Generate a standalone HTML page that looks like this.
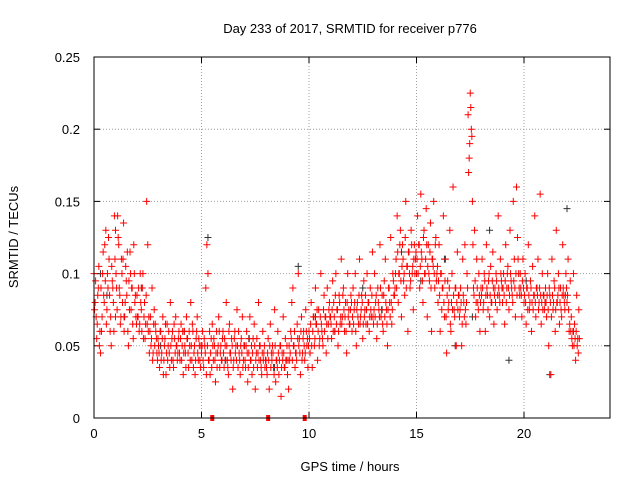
<!DOCTYPE html>
<html><head><meta charset="utf-8"><style>
body{margin:0;background:#fff}
svg{display:block;font-family:"Liberation Sans",sans-serif}
</style></head><body>
<svg id="chart" width="640" height="480" viewBox="0 0 640 480">
<text x="350" y="33" text-anchor="middle" font-size="13">Day 233 of 2017, SRMTID for receiver p776</text>
<text x="350" y="471" text-anchor="middle" font-size="13">GPS time / hours</text>
<text x="0" y="0" transform="translate(18,237) rotate(-90)" text-anchor="middle" font-size="13">SRMTID / TECUs</text>
<g id="grid"></g><g id="ticks"></g><g id="pts"></g>
<rect x="94" y="57" width="516" height="361" fill="none" stroke="#000"/>
</svg>
<script>
const xTicks=[0,5,10,15,20];
const yTicks=[0,0.05,0.1,0.15,0.2,0.25];
const yTickLabels=["0","0.05","0.1","0.15","0.2","0.25"];
const hourStarts=[0,1,2,3,4,5,6,7,8,9,10,11,12,13,14,15,16,17,18,19,20,21,22];
const redValues=[
[.10,.08,.07,.065,.09,.05,.045,.06,.1,.085,.12,.13,.075,.09,.11,.06,.05,.095,.08,.14,.07],
[.13,.09,.14,.12,.085,.07,.1,.11,.06,.08,.095,.115,.05,.075,.1,.09,.065,.12,.08,.07],
[.085,.07,.06,.1,.075,.09,.055,.08,.065,.15,.12,.07,.06,.05,.09,.045,.075,.065,.055,.04],
[.05,.035,.06,.045,.07,.04,.055,.03,.065,.05,.045,.08,.04,.06,.035,.055,.07,.05,.045,.06],
[.04,.065,.05,.03,.06,.045,.07,.055,.035,.05,.08,.04,.06,.045,.03,.055,.07,.04,.05,.035],
[.045,.06,.035,.05,.09,.12,.1,.04,.03,.055,.065,.04,.05,.025,.06,.045,.07,.035,.05,.04],
[.06,.035,.05,.08,.04,.03,.065,.045,.055,.02,.04,.06,.05,.075,.035,.045,.03,.055,.07,.04],
[.05,.035,.06,.025,.045,.07,.04,.03,.055,.065,.02,.045,.035,.08,.05,.04,.03,.06,.045,.035],
[.04,.03,.055,.02,.065,.045,.05,.035,.075,.025,.04,.06,.03,.05,.015,.045,.07,.035,.055,.04],
[.03,.02,.04,.06,.08,.09,.05,.035,.045,.065,.1,.055,.03,.07,.045,.06,.04,.075,.05,.035],
[.06,.045,.08,.035,.07,.05,.09,.065,.04,.075,.055,.1,.06,.05,.085,.07,.045,.09,.065,.08],
[.07,.055,.095,.08,.06,.1,.075,.05,.085,.065,.11,.07,.09,.06,.08,.045,.1,.075,.065,.085],
[.06,.09,.075,.1,.05,.08,.065,.11,.07,.085,.055,.095,.075,.065,.1,.08,.06,.09,.07,.115],
[.065,.1,.08,.055,.09,.075,.12,.07,.085,.06,.095,.11,.075,.05,.09,.08,.125,.065,.1,.085],
[.09,.11,.14,.08,.1,.13,.07,.12,.095,.085,.15,.105,.06,.115,.09,.13,.1,.075,.12,.11],
[.1,.14,.12,.09,.155,.11,.08,.13,.1,.145,.07,.12,.095,.135,.06,.11,.15,.09,.125,.1],
[.08,.12,.06,.1,.09,.14,.07,.11,.045,.095,.08,.13,.06,.1,.16,.075,.09,.05,.115,.085],
[.07,.09,.05,.11,.08,.12,.065,.1,.21,.18,.225,.2,.15,.09,.13,.07,.11,.08,.1,.06],
[.09,.11,.075,.1,.06,.12,.085,.095,.07,.105,.08,.115,.065,.09,.1,.075,.14,.085,.11,.095],
[.08,.1,.065,.12,.09,.105,.075,.13,.095,.085,.15,.11,.07,.16,.125,.1,.085,.09,.07,.11],
[.08,.1,.065,.09,.12,.075,.095,.06,.105,.085,.14,.07,.09,.11,.08,.155,.065,.1,.085,.075],
[.09,.07,.1,.05,.085,.03,.11,.075,.095,.06,.13,.08,.1,.065,.09,.07,.12,.085,.075,.1],
[.08,.11,.06,.095,.07,.05,.1,.065,.04,.085,.055,.075]
];
const redValues2=[
[.075,.095,.055,.085,.105,.06,.09,.07,.115,.08,.095,.065,.1,.125,.085,.07,.105,.09,.06,.11],
[.1,.075,.125,.09,.065,.11,.08,.135,.07,.105,.085,.06,.095,.115,.075,.09,.055,.1,.085,.065],
[.07,.09,.065,.08,.06,.1,.07,.055,.085,.065,.06,.045,.07,.055,.04,.065,.05,.06,.045,.055],
[.045,.06,.04,.055,.03,.05,.065,.045,.04,.06,.035,.05,.055,.04,.065,.045,.05,.04,.055,.045],
[.055,.04,.06,.045,.05,.035,.055,.045,.06,.04,.05,.065,.035,.05,.04,.06,.045,.055,.04,.05],
[.05,.04,.055,.045,.03,.05,.04,.06,.045,.035,.05,.055,.04,.045,.035,.05,.06,.045,.04,.055],
[.045,.055,.04,.05,.035,.06,.045,.04,.05,.035,.055,.045,.04,.05,.06,.04,.05,.045,.035,.05],
[.04,.05,.045,.035,.055,.04,.05,.045,.035,.05,.04,.055,.045,.04,.05,.035,.045,.04,.05,.04],
[.035,.045,.04,.05,.035,.04,.045,.03,.05,.04,.035,.045,.04,.05,.035,.04,.045,.035,.04,.05],
[.04,.05,.045,.055,.04,.05,.06,.045,.04,.055,.05,.045,.06,.04,.055,.05,.045,.06,.055,.05],
[.055,.065,.05,.06,.07,.055,.065,.075,.06,.05,.07,.065,.055,.075,.06,.07,.065,.055,.075,.07],
[.065,.075,.06,.07,.085,.065,.075,.06,.08,.07,.065,.085,.075,.07,.06,.08,.07,.065,.075,.08],
[.07,.065,.08,.06,.075,.07,.085,.065,.075,.08,.065,.07,.085,.075,.065,.08,.07,.075,.085,.07],
[.075,.07,.085,.065,.08,.07,.09,.075,.065,.085,.07,.08,.065,.075,.09,.07,.08,.075,.095,.085],
[.1,.09,.115,.1,.12,.095,.105,.11,.1,.125,.09,.105,.115,.1,.095,.12,.105,.11,.1,.115],
[.11,.1,.12,.105,.115,.095,.125,.1,.11,.12,.105,.1,.115,.09,.11,.105,.1,.12,.095,.105],
[.095,.085,.1,.075,.09,.08,.095,.07,.085,.075,.09,.065,.08,.075,.085,.07,.09,.08,.075,.085],
[.075,.08,.065,.085,.07,.075,.08,.09,.17,.19,.215,.195,.12,.085,.095,.08,.09,.075,.085,.08],
[.085,.09,.08,.095,.085,.09,.075,.1,.085,.08,.095,.09,.085,.08,.095,.085,.09,.08,.1,.09],
[.09,.085,.095,.08,.1,.09,.085,.1,.09,.08,.095,.09,.1,.085,.11,.09,.1,.085,.095,.09],
[.085,.08,.09,.075,.085,.08,.09,.08,.075,.085,.08,.09,.085,.075,.09,.085,.08,.075,.085,.08],
[.08,.085,.075,.09,.08,.07,.085,.08,.09,.075,.08,.085,.09,.08,.075,.085,.09,.08,.085,.09],
[.085,.075,.065,.06,.055,.06,.05,.055,.06,.05,.045,.055]
];
const epochStep=0.05;
const blackTimes=[0.3,0.6,1.4,2.2,3.1,4.2,5.3,6.1,7.2,8.4,9.5,10.3,11.2,12.5,13.4,14.3,15.2,16.3,16.8,17.6,18.4,19.3,20.1,21.2,22.0,22.3];
const blackValues=[.1,.085,.07,.09,.05,.06,.125,.04,.055,.035,.105,.07,.06,.09,.075,.115,.095,.11,.05,.07,.13,.04,.095,.03,.145,.06];
const gapTimes=[5.5,8.1,9.8];

const X0=94,X1=610,Y0=418,Y1=57,XMAX=24,YMAX=0.25;
const sx=t=>X0+t/XMAX*(X1-X0);
const sy=v=>Y0-v/YMAX*(Y0-Y1);
const NS="http://www.w3.org/2000/svg";
function mk(tag,attrs,parent){const e=document.createElementNS(NS,tag);for(const k in attrs)e.setAttribute(k,attrs[k]);parent.appendChild(e);return e;}
const grid=document.getElementById('grid'),ticks=document.getElementById('ticks'),pts=document.getElementById('pts');
xTicks.forEach(t=>{
  const x=sx(t);
  if(t>0){const g=mk('line',{x1:x,x2:x,y1:Y1,y2:Y0,stroke:'#a0a0a0','stroke-dasharray':'1,2'},grid);
  
  }
  mk('line',{x1:x,x2:x,y1:Y0,y2:Y0-6,stroke:'#000'},ticks);
  mk('line',{x1:x,x2:x,y1:Y1,y2:Y1+6,stroke:'#000'},ticks);
  const l=mk('text',{x:x,y:Y0+20,'text-anchor':'middle','font-size':13},ticks);
  l.textContent=String(t);
  
  
});
yTicks.forEach((v,i)=>{
  const y=sy(v);
  if(v>0&&v<YMAX){const g=mk('line',{x1:X0,x2:X1,y1:y,y2:y,stroke:'#a0a0a0','stroke-dasharray':'1,2'},grid);
  
  }
  mk('line',{x1:X0,x2:X0+6,y1:y,y2:y,stroke:'#000'},ticks);
  mk('line',{x1:X1,x2:X1-6,y1:y,y2:y,stroke:'#000'},ticks);
  const l=mk('text',{x:80,y:y+5,'text-anchor':'end','font-size':13},ticks);
  l.textContent=yTickLabels[i];
  
  
});
function plus(t,v,color,name){
  const x=sx(t),y=sy(v);
  const p=mk('path',{d:`M${x-3.5},${y}h7M${x},${y-3.5}v7`,stroke:color,'stroke-width':1,fill:'none'},pts);
  
  
}
blackTimes.forEach((t,i)=>plus(t,blackValues[i],'#333','black-point'));
hourStarts.forEach((h,i)=>redValues[i].forEach((v,j)=>plus(h+j*epochStep,v,'#f00','red-point')));
hourStarts.forEach((h,i)=>redValues2[i].forEach((v,j)=>plus(h+0.025+j*epochStep,v,'#f00','red-point')));
gapTimes.forEach(t=>{
  const r=mk('rect',{x:sx(t)-2,y:Y0-3,width:4,height:6,fill:'#f00'},pts);
  
  
});
</script>
</body></html>
